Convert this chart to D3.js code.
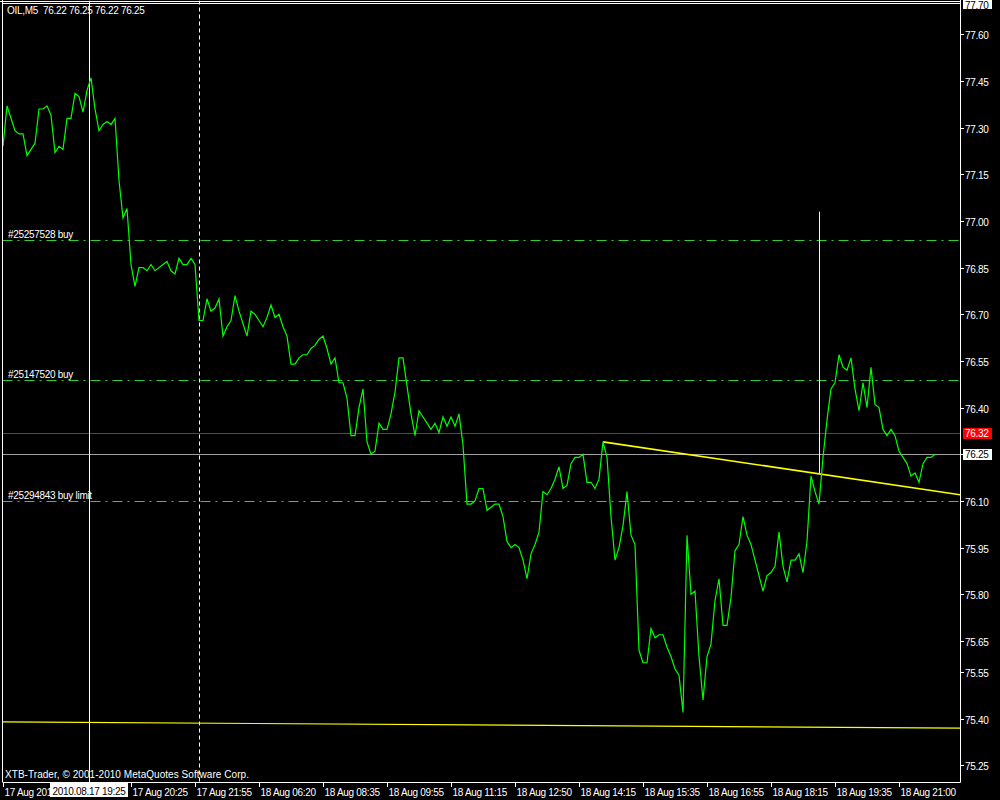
<!DOCTYPE html>
<html><head><meta charset="utf-8">
<script src="https://cdn.jsdelivr.net/npm/d3@7"></script>
<style>
html,body{margin:0;padding:0;background:#000;}
svg{display:block;}
text{font-family:"Liberation Sans",Arial,sans-serif;font-size:10px;letter-spacing:-0.3px;}
text.footer{letter-spacing:0.05px;}
</style></head>
<body>
<script>
// ---- data ----
const symbolHeader = "OIL,M5  76.22 76.25 76.22 76.25";
const footerText = "XTB-Trader, \u00A9 2001-2010 MetaQuotes Software Corp.";
// close prices per M5 bar
const closes = [
77.24,77.37,77.33,77.29,77.28,77.28,77.21,77.23,77.25,77.36,
77.36,77.37,77.34,77.22,77.24,77.23,77.33,77.33,77.41,77.40,
77.35,77.42,77.46,77.36,77.29,77.31,77.32,77.31,77.33,77.13,
77.01,77.04,76.86,76.79,76.85,76.85,76.84,76.86,76.84,76.85,
76.86,76.87,76.84,76.83,76.88,76.86,76.86,76.88,76.86,76.68,
76.68,76.75,76.71,76.72,76.75,76.63,76.66,76.68,76.76,76.71,
76.67,76.63,76.71,76.70,76.68,76.66,76.69,76.73,76.69,76.70,
76.66,76.63,76.54,76.54,76.56,76.57,76.57,76.59,76.60,76.62,
76.63,76.59,76.54,76.56,76.48,76.48,76.43,76.31,76.31,76.40,
76.46,76.29,76.25,76.26,76.35,76.33,76.33,76.38,76.45,76.56,
76.56,76.47,76.38,76.31,76.39,76.37,76.35,76.33,76.35,76.32,
76.37,76.34,76.37,76.34,76.38,76.28,76.09,76.09,76.10,76.14,
76.14,76.07,76.08,76.09,76.09,76.05,75.97,75.95,75.96,75.95,
75.91,75.85,75.93,75.96,76.00,76.13,76.12,76.14,76.17,76.21,
76.14,76.15,76.22,76.24,76.24,76.25,76.16,76.16,76.14,76.17,
76.29,76.24,76.05,75.91,75.95,76.02,76.13,75.99,75.96,75.62,
75.58,75.58,75.69,75.66,75.67,75.67,75.63,75.60,75.56,75.54,
75.42,75.99,75.80,75.81,75.60,75.46,75.60,75.64,75.78,75.85,
75.70,75.70,75.79,75.94,75.96,76.05,75.99,75.96,75.91,75.86,
75.81,75.86,75.87,75.89,76.00,75.89,75.84,75.91,75.91,75.93,
75.87,75.97,76.18,76.13,76.09,76.24,76.36,76.46,76.48,76.57,
76.53,76.52,76.56,76.46,76.39,76.48,76.40,76.53,76.41,76.40,
76.33,76.31,76.33,76.31,76.26,76.24,76.22,76.18,76.19,76.16,
76.22,76.24,76.24,76.25
];
// tick bars; the second label is hidden under the crosshair time box in the reference
const timeTickBars = [0,16,32,48,64,80,96,112,128,144,160,176,192,208,224];
const timeTickLabels = ["17 Aug 201","","17 Aug 20:25","17 Aug 21:55","18 Aug 06:20",
  "18 Aug 08:35","18 Aug 09:55","18 Aug 11:15","18 Aug 12:50","18 Aug 14:15","18 Aug 15:35",
  "18 Aug 16:55","18 Aug 18:15","18 Aug 19:35","18 Aug 21:00"];
const priceTicks = [77.60,77.45,77.30,77.15,77.00,76.85,76.70,76.55,76.40,76.25,76.10,75.95,75.80,75.65,75.55,75.40,75.25];
const orderLevels = [76.94, 76.49, 76.10];
const orderLabels = ["#25257528 buy","#25147520 buy","#25294843 buy limit"];
const askPrice = 76.32, bidPrice = 76.25;
const crossBar = 21.5, crossPrice = 77.70, crossTimeLabel = "2010.08.17 19:25";
const separatorBar = 49;
const trendA = [{bar:150, price:76.29},{bar:239.25, price:76.12}];
const trendB = [{bar:0, price:75.39},{bar:239.25, price:75.37}];
const vLineBar = 204, vLinePrices = [77.03, 76.19];

// ---- layout ----
const W = 1000, H = 800;
const pLeft = 2.5, pRight = 960, pTop = 0.5, pBottom = 782;
const svg = d3.select("body").append("svg").attr("width", W).attr("height", H);
svg.append("rect").attr("width", W).attr("height", H).attr("fill", "#000");

const x = d3.scaleLinear().domain([0, closes.length - 1]).range([3, 935]);
const y = d3.scaleLinear().domain([75.25, 77.70]).range([765.4, 3.2]);

svg.append("clipPath").attr("id","plot").append("rect")
  .attr("x", pLeft).attr("y", pTop).attr("width", pRight-pLeft).attr("height", pBottom-pTop);
const plot = svg.append("g").attr("clip-path","url(#plot)");

// header & footer
svg.append("text").attr("x", 7).attr("y", 14).attr("fill", "#fff").attr("xml:space","preserve")
  .style("white-space","pre").text(symbolHeader);
svg.append("text").attr("class","footer").attr("x", 5).attr("y", 778).attr("fill", "#fff").text(footerText);

// order lines
orderLevels.forEach((p, i) => {
  plot.append("line").attr("x1", pLeft).attr("x2", pRight)
    .attr("y1", Math.round(y(p)) + 0.5).attr("y2", Math.round(y(p)) + 0.5)
    .attr("stroke", "#32cd32").attr("stroke-dasharray", "10,5,2,5");
  svg.append("text").attr("x", 8).attr("y", Math.round(y(p)) - 2).attr("fill", "#fff").text(orderLabels[i]);
});

// ask / bid lines
plot.append("line").attr("x1", pLeft).attr("x2", pRight)
  .attr("y1", Math.round(y(askPrice)) + 0.5).attr("y2", Math.round(y(askPrice)) + 0.5).attr("stroke", "#ff0000");
plot.append("line").attr("x1", pLeft).attr("x2", pRight)
  .attr("y1", Math.round(y(bidPrice)) + 0.5).attr("y2", Math.round(y(bidPrice)) + 0.5).attr("stroke", "#a0a0a0");

// separator (dashed) and crosshair
plot.append("line").attr("x1", Math.round(x(separatorBar)) + 0.5).attr("x2", Math.round(x(separatorBar)) + 0.5)
  .attr("y1", pTop).attr("y2", pBottom).attr("stroke", "#fff").attr("stroke-dasharray", "4,3");
plot.append("line").attr("x1", Math.round(x(crossBar)) + 0.5).attr("x2", Math.round(x(crossBar)) + 0.5)
  .attr("y1", pTop).attr("y2", pBottom).attr("stroke", "#fff");
plot.append("line").attr("x1", pLeft).attr("x2", pRight)
  .attr("y1", Math.round(y(crossPrice)) + 0.5).attr("y2", Math.round(y(crossPrice)) + 0.5).attr("stroke", "#fff");

// trend lines
const tl = d3.line().x(d => x(d.bar)).y(d => y(d.price));
plot.append("path").datum(trendA).attr("d", tl).attr("fill","none").attr("stroke","#ffff00").attr("stroke-width",1.6);
plot.append("path").datum(trendB).attr("d", tl).attr("fill","none").attr("stroke","#ffff00").attr("stroke-width",1.2);
plot.append("line").attr("x1", Math.round(x(vLineBar)) + 0.5).attr("x2", Math.round(x(vLineBar)) + 0.5)
  .attr("y1", y(vLinePrices[0])).attr("y2", y(vLinePrices[1])).attr("stroke", "#ffffa0");

// price line
const pl = d3.line().x((d, i) => x(i)).y(d => y(d));
plot.append("path").datum(closes).attr("d", pl).attr("fill","none")
  .attr("stroke","#00ff00").attr("stroke-width",1.2).attr("stroke-linejoin","miter");

// frame
svg.append("line").attr("x1", pLeft).attr("x2", pLeft).attr("y1", 0).attr("y2", pBottom).attr("stroke","#fff");
svg.append("line").attr("x1", 0).attr("x2", pRight).attr("y1", 1.5).attr("y2", 1.5).attr("stroke","#fff");
svg.append("line").attr("x1", pRight+0.5).attr("x2", pRight+0.5).attr("y1", 0).attr("y2", pBottom+0.5).attr("stroke","#fff");
svg.append("line").attr("x1", pLeft).attr("x2", pRight+0.5).attr("y1", pBottom+0.5).attr("y2", pBottom+0.5).attr("stroke","#fff");

// price axis
const yAxis = svg.append("g");
priceTicks.forEach(p => {
  const yy = Math.round(y(p)) + 0.5;
  yAxis.append("line").attr("x1", 961).attr("x2", 964).attr("y1", yy).attr("y2", yy).attr("stroke", "#fff");
  if (p !== bidPrice)
    yAxis.append("text").attr("x", 965).attr("y", yy + 4).attr("fill", "#fff").text(p.toFixed(2));
});

// time axis
const xAxis = svg.append("g");
timeTickBars.forEach((b, i) => {
  const xx = Math.round(x(b)) + 0.5;
  xAxis.append("line").attr("x1", xx).attr("x2", xx).attr("y1", pBottom).attr("y2", pBottom + 5).attr("stroke", "#fff");
  if (timeTickLabels[i])
    xAxis.append("text").attr("x", xx + 1).attr("y", 796).attr("fill", "#fff").text(timeTickLabels[i]);
});

// value boxes on price axis
function priceBox(p, bg, fg, dy) {
  const yy = Math.round(y(p));
  svg.append("rect").attr("x", 963).attr("y", yy - 5).attr("width", 29).attr("height", 11).attr("fill", bg);
  svg.append("text").attr("x", 965).attr("y", yy + 4 + (dy || 0)).attr("fill", fg).text(p.toFixed(2));
}
priceBox(askPrice, "#ff0000", "#fff");
priceBox(bidPrice, "#fff", "#000");
priceBox(crossPrice, "#fff", "#000", 2);

// crosshair time label
const cx = Math.round(x(crossBar));
svg.append("rect").attr("x", cx - 39).attr("y", 783).attr("width", 78).attr("height", 14).attr("fill", "#fff");
svg.append("text").attr("x", cx).attr("y", 795).attr("text-anchor","middle").attr("fill", "#000").text(crossTimeLabel);
</script>
</body></html>
